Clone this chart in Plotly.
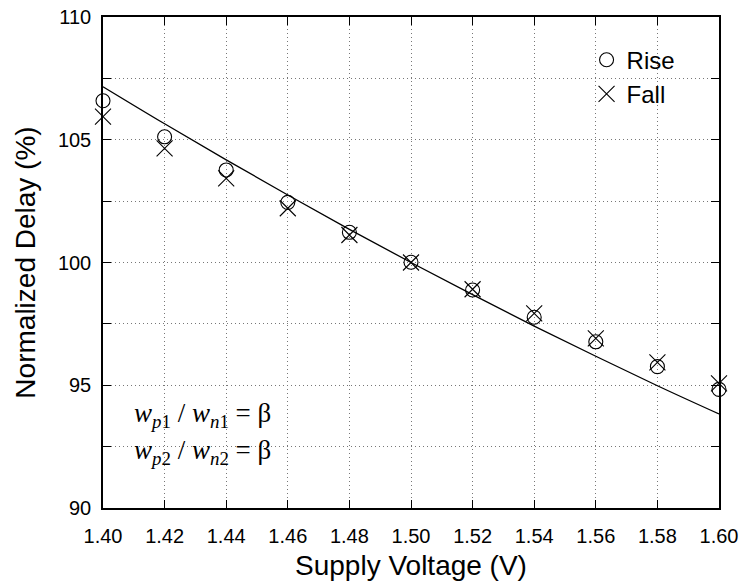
import plotly.graph_objects as go

voltage = [1.40, 1.42, 1.44, 1.46, 1.48, 1.50, 1.52, 1.54, 1.56, 1.58, 1.60]
rise = [106.59, 105.12, 103.77, 102.45, 101.23, 100.01, 98.88, 97.77, 96.77, 95.76, 94.83]
fall = [105.94, 104.65, 103.43, 102.21, 101.12, 100.00, 98.91, 97.93, 96.91, 95.93, 95.08]
fit = [107.16, 105.65, 104.18, 102.75, 101.35, 100.00, 98.69, 97.41, 96.18, 94.98, 93.83]

x_ticks = [1.40, 1.42, 1.44, 1.46, 1.48, 1.50, 1.52, 1.54, 1.56, 1.58, 1.60]
x_labels = ["1.40", "1.42", "1.44", "1.46", "1.48", "1.50", "1.52", "1.54", "1.56", "1.58", "1.60"]
y_ticks = [90, 92.5, 95, 97.5, 100, 102.5, 105, 107.5, 110]
y_labels = ["90", "", "95", "", "100", "", "105", "", "110"]

fig = go.Figure()
fig.add_trace(go.Scatter(x=voltage, y=fit, mode="lines", line=dict(color="black", width=1.3, shape="spline"),
                         showlegend=False, hoverinfo="skip"))
fig.add_trace(go.Scatter(x=voltage, y=rise, mode="markers", name="Rise", cliponaxis=False,
                         marker=dict(symbol="circle-open", size=14, color="black", line=dict(width=1.1, color="black"))))
fig.add_trace(go.Scatter(x=voltage, y=fall, mode="markers", name="Fall", cliponaxis=False,
                         marker=dict(symbol="x-thin-open", size=16, color="black", line=dict(width=1.1, color="black"))))

axis_common = dict(showline=True, linecolor="black", linewidth=1.5, mirror="ticks", ticks="inside",
                   ticklen=8, tickcolor="black", tickwidth=1, showgrid=True, gridcolor="#777",
                   griddash="1px,3px", gridwidth=1, zeroline=False, automargin=False,
                   tickfont=dict(family="Liberation Sans, Arial", size=20, color="black"))

fig.update_xaxes(range=[1.40, 1.60], tickvals=x_ticks, ticktext=x_labels, ticklabelstandoff=9,
                 title=dict(text="Supply Voltage (V)", font=dict(family="Liberation Sans, Arial", size=28, color="black"), standoff=10),
                 **axis_common)
fig.update_yaxes(range=[90, 110], tickvals=y_ticks, ticktext=y_labels, ticklabelstandoff=6,
                 title=dict(text="Normalized Delay (%)", font=dict(family="Liberation Sans, Arial", size=28, color="black"), standoff=14),
                 **axis_common)

serif = dict(family="Liberation Serif, Times New Roman", size=27, color="black")
fig.add_annotation(x=1.4095, y=93.8, xref="x", yref="y", xanchor="left", yanchor="middle", showarrow=False,
                   text="<i>w</i><sub><i>p</i>1</sub> / <i>w</i><sub><i>n</i>1</sub> = β", font=serif)
fig.add_annotation(x=1.4095, y=92.3, xref="x", yref="y", xanchor="left", yanchor="middle", showarrow=False,
                   text="<i>w</i><sub><i>p</i>2</sub> / <i>w</i><sub><i>n</i>2</sub> = β", font=serif)

fig.update_layout(width=743, height=584, margin=dict(l=103, r=24, t=17, b=76),
                  paper_bgcolor="white", plot_bgcolor="white",
                  legend=dict(x=0.785, y=0.958, xanchor="left", yanchor="top", bgcolor="rgba(0,0,0,0)",
                              font=dict(family="Liberation Sans, Arial", size=24, color="black"),
                              itemwidth=30, tracegroupgap=0))

fig.write_html("out.html")
